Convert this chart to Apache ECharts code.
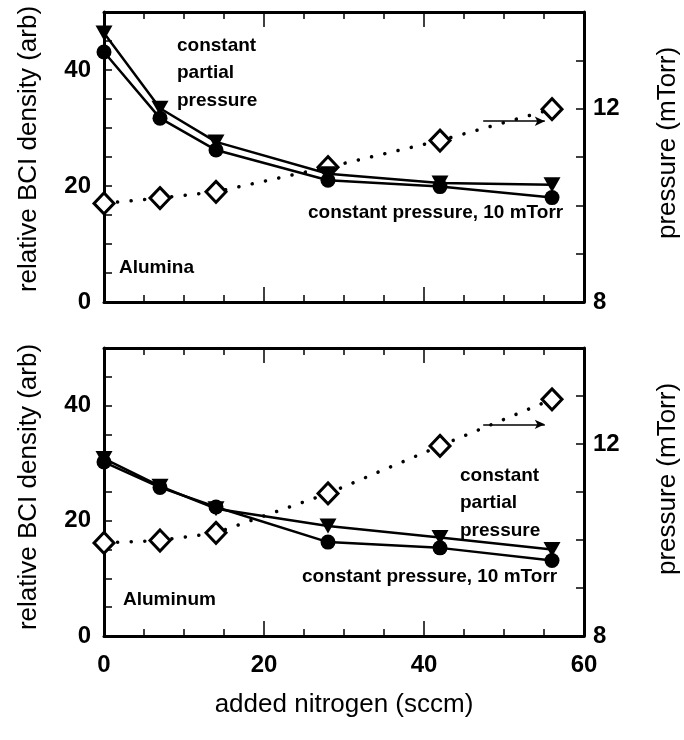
<!DOCTYPE html>
<html>
<head>
<meta charset="utf-8">
<script src="https://cdn.jsdelivr.net/npm/echarts@6/dist/echarts.min.js"></script>
<style>
  html, body { margin: 0; padding: 0; background: #fff; }
  #chart { width: 684px; height: 740px; }
</style>
</head>
<body>
<div id="chart"></div>
<script>
// added nitrogen flow (sccm)
const nitrogen = [0, 7, 14, 28, 42, 56]

// Alumina panel
const aluminaPartial = [46.4, 33.4, 27.6, 22.1, 20.5, 20.2]
const aluminaConst = [43.1, 31.7, 26.2, 21.0, 19.9, 18.0]
const aluminaPressure = [10.04, 10.15, 10.28, 10.79, 11.34, 11.99]

// Aluminum panel
const aluminumPartial = [30.8, 26.0, 22.1, 19.1, 17.1, 15.0]
const aluminumConst = [30.2, 25.8, 22.4, 16.3, 15.3, 13.1]
const aluminumPressure = [9.94, 9.99, 10.15, 10.97, 11.96, 12.93]

// arrows pointing at the pressure axis
const arrowX = [47.4, 55.1]
const arrowYAlumina = 11.74
const arrowYAluminum = 12.41

const densityTicks = [0, 20, 40]
const pressureTicks = [8, 12]

const FONT = 'Liberation Sans, Arial, sans-serif'
const BLACK = '#000'

const chart = echarts.init(document.getElementById('chart'))

function pts(ys) {
  return nitrogen.map((x, i) => [x, ys[i]])
}

function xAxisFor(gridIndex, position, withLabels) {
  return {
    type: 'value',
    gridIndex,
    position,
    min: 0,
    max: 60,
    interval: 20,
    axisLine: { show: true, onZero: false, lineStyle: { color: BLACK, width: 3 } },
    axisTick: { show: true, inside: true, length: 15, lineStyle: { color: BLACK, width: 1.5 } },
    minorTick: { show: true, splitNumber: 4, length: 7, lineStyle: { color: BLACK, width: 1.5 } },
    splitLine: { show: false },
    axisLabel: {
      show: withLabels,
      margin: 17,
      color: BLACK,
      fontFamily: FONT,
      fontWeight: 'bold',
      fontSize: 24
    },
    name: withLabels ? 'added nitrogen (sccm)' : '',
    nameLocation: 'middle',
    nameGap: 56,
    nameTextStyle: { color: BLACK, fontFamily: FONT, fontSize: 26 }
  }
}

function yAxisFor(gridIndex, position, min, max, interval, shown, margin) {
  return {
    type: 'value',
    gridIndex,
    position,
    min,
    max,
    interval,
    axisLine: { show: true, onZero: false, lineStyle: { color: BLACK, width: 3 } },
    axisTick: { show: true, inside: true, length: 8, lineStyle: { color: BLACK, width: 1.5 } },
    splitLine: { show: false },
    axisLabel: {
      margin,
      color: BLACK,
      fontFamily: FONT,
      fontWeight: 'bold',
      fontSize: 24,
      formatter: (v) => (shown.includes(v) ? String(v) : '')
    }
  }
}

function solidSeries(ys, xIdx, yIdx, symbol, size, rotate) {
  return {
    type: 'line',
    xAxisIndex: xIdx,
    yAxisIndex: yIdx,
    data: pts(ys),
    symbol,
    symbolSize: size,
    symbolRotate: rotate,
    showSymbol: true,
    z: 3,
    lineStyle: { color: BLACK, width: 2.5 },
    itemStyle: { color: BLACK, borderColor: BLACK, borderWidth: 0 }
  }
}

function pressureSeries(ys, xIdx, yIdx, arrowY) {
  return {
    type: 'line',
    xAxisIndex: xIdx,
    yAxisIndex: yIdx,
    data: pts(ys),
    symbol: 'diamond',
    symbolSize: [20, 21],
    z: 2,
    lineStyle: { color: BLACK, width: 3.5, type: [0.1, 13.5], cap: 'round' },
    itemStyle: { color: '#fff', borderColor: BLACK, borderWidth: 3 },
    markLine: {
      silent: true,
      symbol: ['none', 'arrow'],
      symbolSize: [7, 10],
      label: { show: false },
      lineStyle: { color: BLACK, width: 1.5, type: 'solid' },
      data: [[{ coord: [arrowX[0], arrowY] }, { coord: [arrowX[1], arrowY] }]]
    }
  }
}

function note(text, x, y) {
  return {
    type: 'text',
    x,
    y,
    z: 10,
    style: {
      text,
      fill: BLACK,
      font: 'bold 19px ' + FONT,
      lineHeight: 27.5,
      verticalAlign: 'middle'
    }
  }
}

function title(text, x, y) {
  return {
    type: 'text',
    x,
    y,
    rotation: Math.PI / 2,
    z: 10,
    style: {
      text,
      fill: BLACK,
      font: '26px ' + FONT,
      align: 'center',
      verticalAlign: 'middle'
    }
  }
}

chart.setOption({
  animation: false,
  backgroundColor: '#fff',
  grid: [
    { left: 104, right: 100, top: 12, height: 290, outerBoundsMode: 'none' },
    { left: 104, right: 100, top: 348, height: 288, outerBoundsMode: 'none' }
  ],
  xAxis: [
    xAxisFor(0, 'bottom', false),
    xAxisFor(0, 'top', false),
    xAxisFor(1, 'bottom', true),
    xAxisFor(1, 'top', false)
  ],
  yAxis: [
    yAxisFor(0, 'left', 0, 50, 5, densityTicks, 13),
    yAxisFor(0, 'right', 8, 14, 1, pressureTicks, 9),
    yAxisFor(1, 'left', 0, 50, 5, densityTicks, 13),
    yAxisFor(1, 'right', 8, 14, 1, pressureTicks, 9)
  ],
  series: [
    pressureSeries(aluminaPressure, 0, 1, arrowYAlumina),
    solidSeries(aluminaPartial, 0, 0, 'triangle', [17, 15], 180),
    solidSeries(aluminaConst, 0, 0, 'circle', 15, 0),
    pressureSeries(aluminumPressure, 2, 3, arrowYAluminum),
    solidSeries(aluminumPartial, 2, 2, 'triangle', [17, 15], 180),
    solidSeries(aluminumConst, 2, 2, 'circle', 15, 0)
  ],
  graphic: [
    title('relative BCI density (arb)', 29, 149),
    title('relative BCI density (arb)', 29, 487),
    title('pressure (mTorr)', 668, 143),
    title('pressure (mTorr)', 668, 479),
    note('constant\npartial\npressure', 177, 73),
    note('constant pressure, 10 mTorr', 308, 213),
    note('Alumina', 119, 268),
    note('constant\npartial\npressure', 460, 503),
    note('constant pressure, 10 mTorr', 302, 577),
    note('Aluminum', 123, 600)
  ]
})
</script>
</body>
</html>
